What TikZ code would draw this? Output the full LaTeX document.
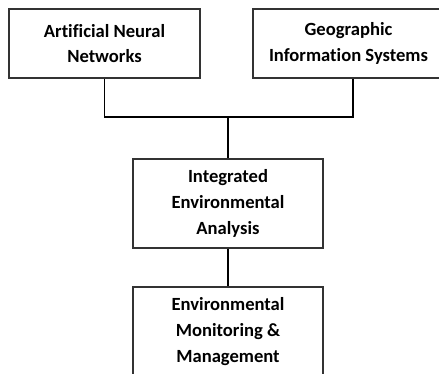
\documentclass[tikz,border=0pt]{standalone}
\usepackage{fontspec}
\setmainfont[Ligatures=NoCommon]{Carlito}
\begin{document}
\begin{tikzpicture}[x=1pt,y=-1pt,
  box/.style={draw=black!80,line width=1.2pt,minimum width=191pt,inner sep=0pt,align=center,
    font=\bfseries\fontsize{18.6}{25.8}\selectfont},
  link/.style={draw=black,line width=1.3pt}]
\useasboundingbox (0,0) rectangle (439,373);
\clip (0,0) rectangle (439,373);
\node[box,minimum height=69pt] (ann) at (104.5,43.5) {Artificial Neural\\Networks};
\node[box,minimum height=69pt] (gis) at (348.5,43.5) {Geographic\\Information Systems};
\node[box,minimum width=190pt,minimum height=89pt] (iea) at (228,203.5) {Integrated\\Environmental\\Analysis};
\node[box,minimum width=190pt,minimum height=89pt] (emm) at (228,331.5) {Environmental\\Monitoring \&\\Management};
\coordinate (j) at (228,117);
\coordinate (gs) at ([xshift=4.5pt]gis.south);
\draw[link] (ann.south) |- (j) -| (gs);
\draw[link] (j) -- (iea.north);
\draw[link] (iea.south) -- (emm.north);
\end{tikzpicture}
\end{document}
